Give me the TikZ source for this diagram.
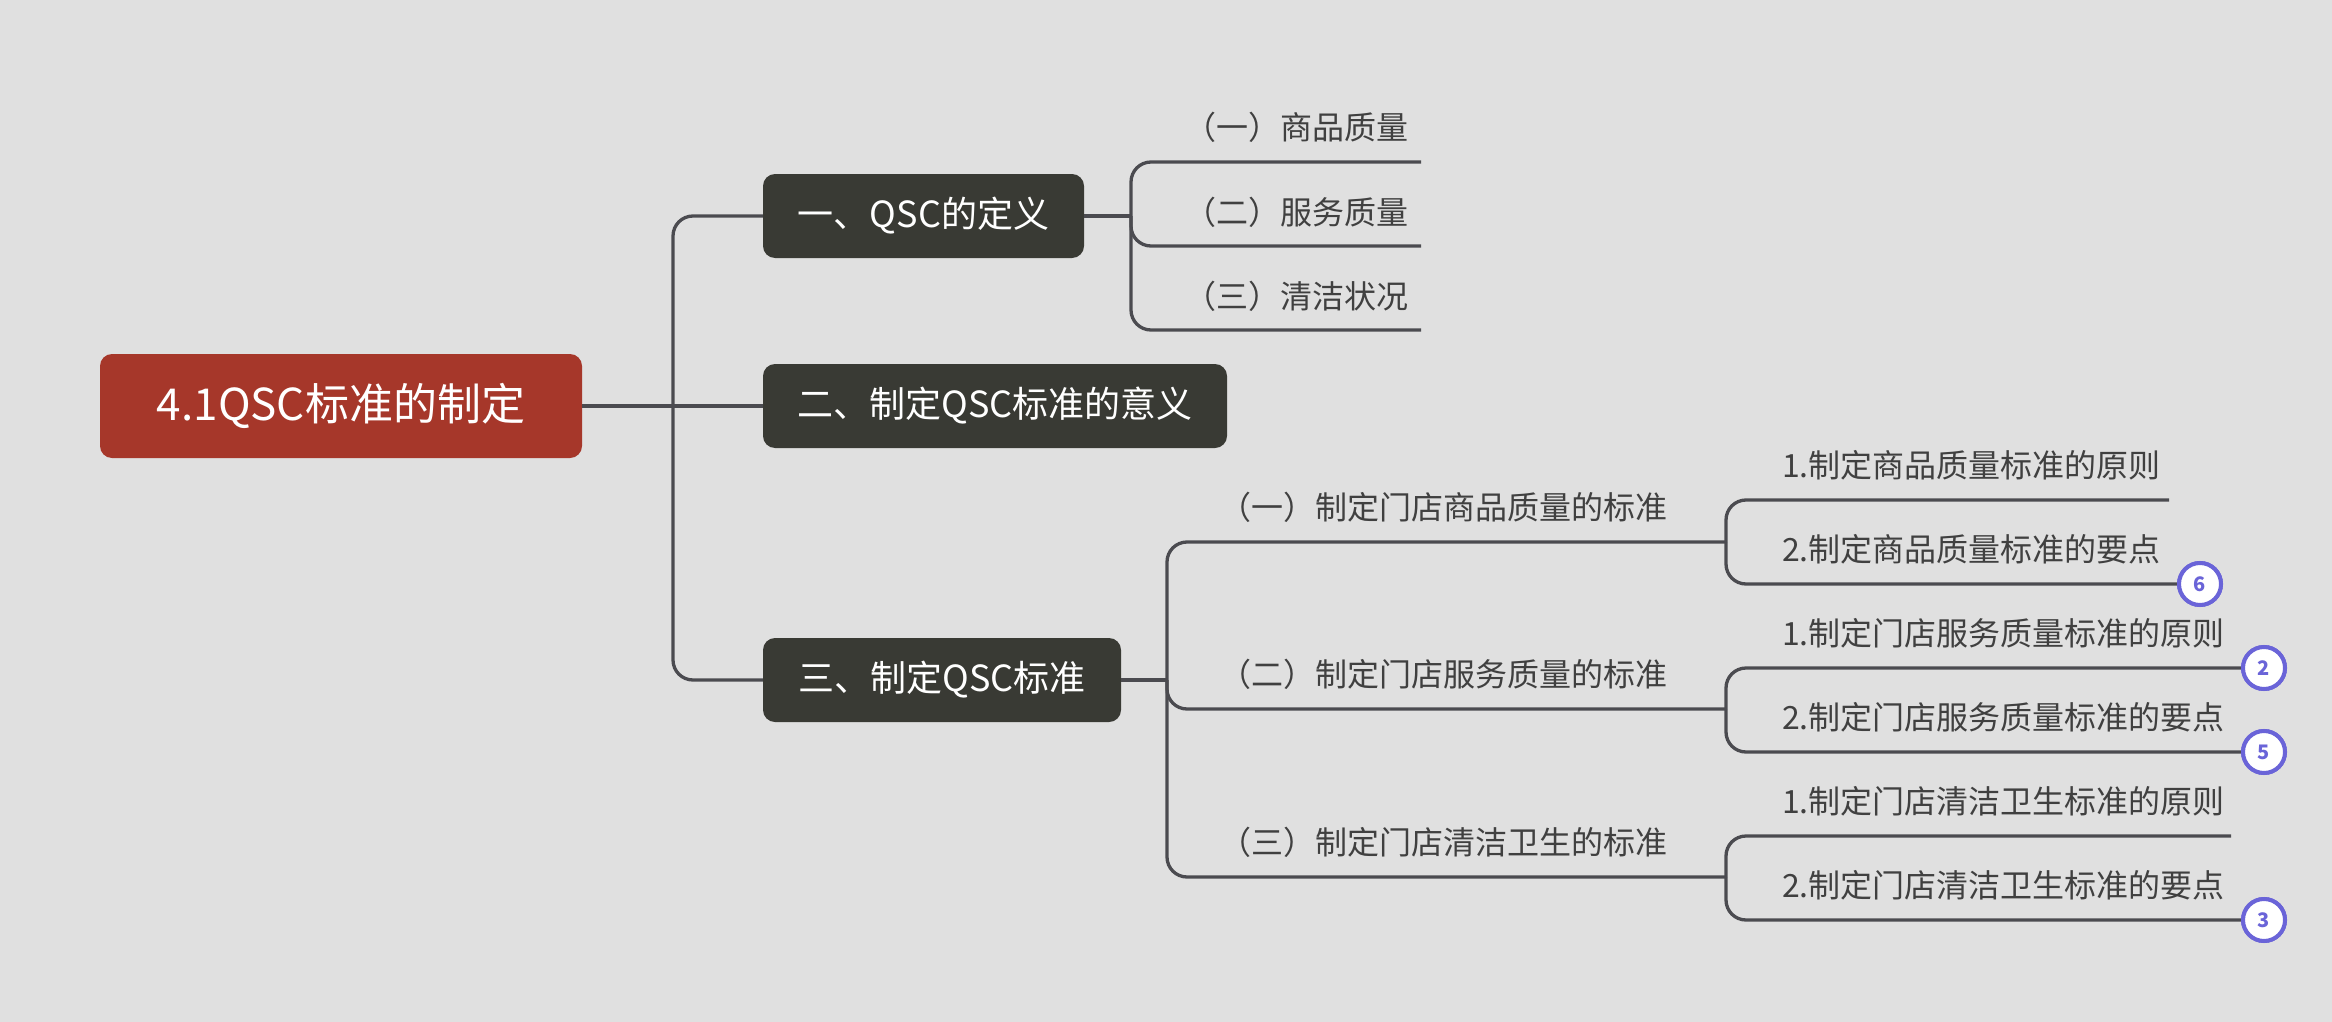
\documentclass[tikz,border=0pt]{standalone}
\usepackage{fontspec}
\setmainfont{Noto Sans CJK SC}
\definecolor{bg}{HTML}{E0E0E0}
\definecolor{rootc}{HTML}{A6372A}
\definecolor{mainc}{HTML}{393A34}
\definecolor{linec}{HTML}{4B4B50}
\definecolor{leafc}{HTML}{404040}
\definecolor{badgec}{HTML}{6A64D8}
\begin{document}
\begin{tikzpicture}[x=1pt,y=-1pt,
  conn/.style={draw=linec, line width=3.3pt, rounded corners=20pt},
  rootbox/.style={fill=rootc, text=white, rounded corners=12pt, minimum height=104pt, font=\fontsize{44}{50}\selectfont, inner sep=0pt},
  mainbox/.style={fill=mainc, text=white, rounded corners=12pt, minimum height=84pt, font=\fontsize{36}{42}\selectfont, inner sep=0pt},
  leaf/.style={text=leafc, font=\fontsize{32}{38}\selectfont, inner sep=0pt},
  badge/.style={circle, draw=badgec, line width=4pt, fill=white, minimum size=42pt, inner sep=0pt, text=badgec, font=\fontsize{20}{24}\selectfont\bfseries}]
\fill[bg] (0,0) rectangle (2332,1022);

% main nodes
\node[rootbox, minimum width=482pt] (root) at (341,406) {4.1QSC标准的制定};
\node[mainbox, minimum width=321pt] (n1) at (923.5,216) {一、QSC的定义};
\node[mainbox, minimum width=464pt] (n2) at (995,406) {二、制定QSC标准的意义};
\node[mainbox, minimum width=358pt] (n3) at (942,680) {三、制定QSC标准};

% junction coordinates
\coordinate (s0) at (673,406);
\coordinate (s1) at (1131,216);
\coordinate (s2) at (1167,680);
\coordinate (t1) at (1726,542);
\coordinate (t2) at (1726,709);
\coordinate (t3) at (1726,877);
\coordinate (a1) at (1421,162);
\coordinate (a2) at (1421,246);
\coordinate (a3) at (1421,330);
\coordinate (u1) at (2169,500);
\coordinate (u3) at (2231,836);

% texts of group A
\node[leaf, anchor=base east] (la1) at (1409,140) {（一）商品质量};
\node[leaf, anchor=base east] (la2) at (1409,224) {（二）服务质量};
\node[leaf, anchor=base east] (la3) at (1409,308) {（三）清洁状况};

% texts of group B
\node[leaf, anchor=base east] (lb1) at (1668,519) {（一）制定门店商品质量的标准};
\node[leaf, anchor=base east] (lb2) at (1668,686) {（二）制定门店服务质量的标准};
\node[leaf, anchor=base east] (lb3) at (1668,854) {（三）制定门店清洁卫生的标准};

\node[leaf, anchor=base west] (c11) at (1782,477) {1.制定商品质量标准的原则};
\node[leaf, anchor=base west] (c12) at (1782,561) {2.制定商品质量标准的要点};
\node[leaf, anchor=base west] (c21) at (1782,645) {1.制定门店服务质量标准的原则};
\node[leaf, anchor=base west] (c22) at (1782,729) {2.制定门店服务质量标准的要点};
\node[leaf, anchor=base west] (c31) at (1782,813) {1.制定门店清洁卫生标准的原则};
\node[leaf, anchor=base west] (c32) at (1782,897) {2.制定门店清洁卫生标准的要点};

% badges (positions)
\coordinate (b6c) at (2200,584);
\coordinate (b2c) at (2264,668);
\coordinate (b5c) at (2264,752);
\coordinate (b3c) at (2264,920);
\node[badge] (b6) at (b6c) {6};
\node[badge] (b2) at (b2c) {2};
\node[badge] (b5) at (b5c) {5};
\node[badge] (b3) at (b3c) {3};

% connectors
\draw[conn] (root.east) -- (n2.west);
\draw[conn] (s0) |- (n1.west);
\draw[conn] (s0) |- (n3.west);

\draw[conn] (n1.east) -- (s1);
\draw[conn] (s1) |- (a1);
\draw[conn] (s1) |- (a2);
\draw[conn] (s1) |- (a3);

\draw[conn] (n3.east) -- (s2);
\draw[conn] (s2) |- (t1);
\draw[conn] (s2) |- (t2);
\draw[conn] (s2) |- (t3);

\draw[conn] (t1) |- (u1);
\draw[conn] (t1) |- (b6.west);
\draw[conn] (t2) |- (b2.west);
\draw[conn] (t2) |- (b5.west);
\draw[conn] (t3) |- (u3);
\draw[conn] (t3) |- (b3.west);

% redraw badges on top
\node[badge] at (b6c) {6};
\node[badge] at (b2c) {2};
\node[badge] at (b5c) {5};
\node[badge] at (b3c) {3};
\end{tikzpicture}
\end{document}
